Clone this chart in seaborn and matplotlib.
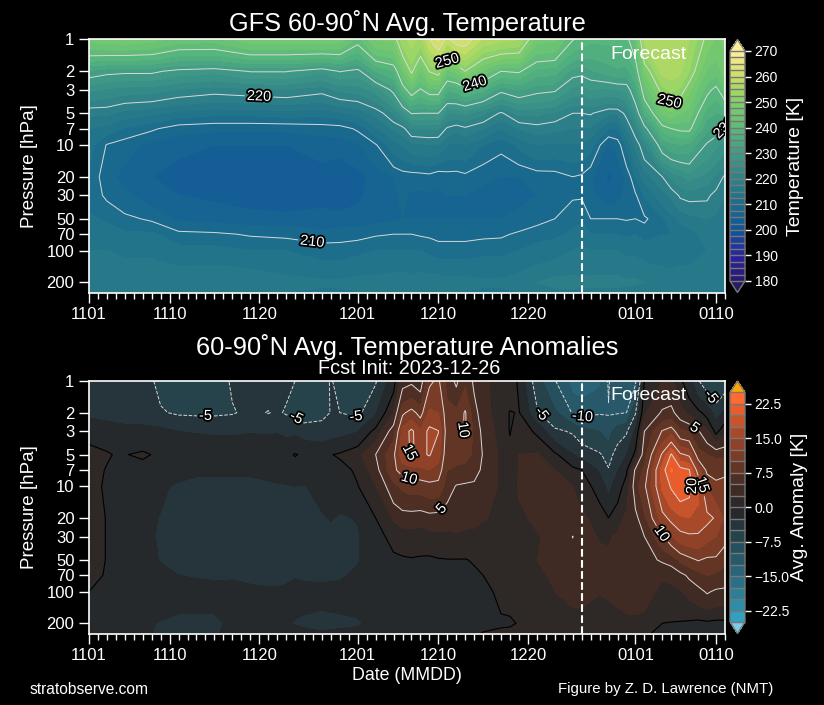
"""
GFS 60-90N polar cap temperature and anomalies (pressure vs date)
"""

import numpy as np
import matplotlib
matplotlib.use("Agg")
import matplotlib.pyplot as plt
import matplotlib.patheffects as pe
from matplotlib.colors import ListedColormap
from matplotlib.ticker import FixedLocator, FixedFormatter, NullLocator
import seaborn as sns

sns.set_theme(style="ticks", rc={
    "figure.facecolor": "black", "axes.facecolor": "black", "savefig.facecolor": "black",
    "text.color": "white", "axes.labelcolor": "white", "axes.edgecolor": "white",
    "xtick.color": "white", "ytick.color": "white",
})
plt.rcParams["font.family"] = ["Liberation Sans", "DejaVu Sans"]

# ============================================================
# Data
# ============================================================

pressure = [1, 2, 3, 5, 7, 10, 20, 30, 50, 70, 100, 200, 250]
tick_pressure = [1, 2, 3, 5, 7, 10, 20, 30, 50, 70, 100, 200]
tick_days = [0, 9, 19, 30, 39, 49, 61, 70]
tick_dates = ["1101", "1110", "1120", "1201", "1210", "1220", "0101", "0110"]
forecast_day = 55

temp_days = [0, 2, 4, 7, 10, 14, 18, 22, 26, 28, 30, 32, 34, 35, 36, 37, 38, 39, 40, 41,
             42, 44, 46, 48, 50, 52, 54, 55, 56, 58, 59, 60, 61, 62, 64, 65, 66, 67, 69, 70, 71]

# one row per day in temp_days, one column per pressure level
temp_values = [
    [246, 232, 225.5, 218, 215, 213.5, 212, 211.5, 213, 214, 215, 217, 216],
    [246.5, 231, 224.5, 218, 214, 209.8, 208.5, 209.5, 212, 214, 215, 217, 216],
    [246.7, 230.7, 223.8, 216.4, 212.2, 208.5, 206.5, 208, 210.7, 213, 214.5, 217, 216],
    [246, 230.7, 223.5, 215.6, 210.5, 206.5, 205, 206, 209.5, 213, 214.5, 217, 216],
    [243.7, 229, 222.2, 214, 208.5, 205.5, 204, 205, 207, 210.8, 213.5, 217, 216],
    [243.7, 228.3, 221.2, 213.2, 208, 205, 203.5, 204.5, 206.5, 210.5, 213.5, 217.5, 216],
    [246.5, 230.2, 221.9, 213.2, 208, 205, 203.2, 203.7, 206, 209.7, 212.5, 217.5, 216],
    [246.5, 230.2, 222.4, 213.8, 208, 205, 202.5, 203, 206, 209.3, 212.5, 216, 215],
    [247, 228, 221, 213.5, 208.5, 206, 203.8, 204.5, 205.5, 208.5, 211.5, 215.5, 214.5],
    [246.3, 230.2, 223, 214.5, 208.7, 206, 202.8, 203, 206, 208.7, 211.5, 215.5, 214.5],
    [241.5, 229, 223.5, 215.5, 210.5, 207, 204, 204.5, 206, 209, 212, 216, 215],
    [247.5, 235, 226, 218.2, 214.5, 209.7, 206, 206, 206.5, 209.7, 212.5, 216, 215],
    [248, 237.3, 231, 222.5, 217.9, 214, 207.5, 207, 207, 210, 212.5, 216.5, 215],
    [254, 244.5, 238, 226, 219, 215, 208.5, 208, 207.5, 210, 212.5, 216.5, 215],
    [256, 250.8, 242.5, 230.2, 222.5, 216.7, 208.5, 207, 207.5, 210, 212.5, 216, 215],
    [254, 245, 239.6, 230, 222.7, 217, 208.7, 207, 207.5, 209.7, 212.5, 216.5, 215],
    [260, 250.2, 242, 230, 222.7, 217.4, 209, 207, 207.5, 209.5, 212, 216.5, 215],
    [263, 251.8, 242, 230, 222.8, 217, 208, 207, 207.5, 209, 211.5, 216.5, 215],
    [259, 244, 235.5, 225, 219.5, 215, 208.7, 207.5, 207.5, 209, 211.5, 216, 215],
    [262, 245.8, 236, 224.8, 218.3, 214.4, 208.7, 207.5, 207.5, 209, 211.5, 216, 215],
    [262, 250, 238, 225.5, 219.4, 215, 209.2, 207.5, 207.5, 209, 211.5, 216, 215],
    [257, 244, 235.5, 223, 217.5, 212.5, 207.8, 207, 207.5, 209.3, 212, 215.5, 214.5],
    [256, 240, 231, 219.5, 215, 210.7, 207.5, 207, 207.5, 209.5, 212, 215.5, 214.5],
    [255, 240.5, 232.6, 223.3, 217.5, 213, 207.5, 207, 208, 210.5, 212.5, 216.5, 215],
    [246, 236.5, 231, 223.2, 218.7, 215, 208.4, 207.5, 209, 211.5, 213.5, 217.5, 216],
    [245.5, 236, 230.5, 221.9, 218.2, 214.5, 208.7, 208.4, 210, 212, 214, 218.5, 216.5],
    [240.2, 231.5, 226.5, 220, 217.4, 214.7, 210, 209.7, 211.5, 213, 215, 218.5, 217],
    [239, 231, 226.3, 220, 217.4, 214.8, 209.5, 209.7, 212, 214, 215.5, 218, 216.5],
    [238, 232, 227.3, 220.3, 217, 213.5, 207.8, 208, 210, 212.5, 215, 218.5, 216.5],
    [238, 233.8, 227, 218, 212.5, 207, 204.5, 205.8, 210, 212.5, 215, 218.5, 216.5],
    [238.5, 234.5, 227.5, 218, 212.5, 208.5, 205.5, 206.5, 210, 212.5, 215, 218.5, 216.5],
    [239, 234, 228, 221, 217.5, 213, 208, 208.3, 209.8, 212, 214.5, 218, 216],
    [243, 237.4, 233.2, 227, 222, 218, 212.4, 209.6, 210, 212.5, 214.5, 218, 216],
    [255.8, 247.5, 242.6, 235.4, 228.6, 222.4, 216, 212.8, 209.5, 211.5, 214, 217.5, 216],
    [257, 256, 251.5, 245, 238.5, 232.4, 220, 216.5, 212, 212.5, 213.5, 217, 215.5],
    [257, 256.5, 253, 247, 240, 234.2, 223, 218, 214, 212.5, 213.5, 216.5, 215],
    [257, 255.5, 252, 244.9, 240.7, 234.7, 224.5, 220.5, 215.5, 213.5, 214, 216.5, 215],
    [255, 252.5, 248, 244, 240.9, 234.3, 226, 221, 216.5, 214, 214, 216.5, 215],
    [249, 244.5, 241, 236, 233, 229.5, 224, 220.6, 217.5, 216, 215, 216.5, 215],
    [247, 243.5, 239, 235, 231.5, 228, 222, 219, 217, 216, 215, 216, 214.5],
    [248, 246, 243, 235.5, 229.5, 226, 219.5, 217.5, 216.5, 215.5, 215, 216, 214.5],
]

anom_days = [0, 2, 3, 4, 6, 8, 10, 12, 14, 16, 18, 20, 21, 22, 23, 24, 26, 27, 28, 30,
             32, 34, 35, 36, 37, 38, 39, 40, 41, 42, 43, 44, 46, 47, 48, 50, 52, 54, 55,
             57, 58, 59, 60, 61, 62, 64, 65, 66, 67, 68, 69, 70, 71]

# one row per day in anom_days, one column per pressure level
anom_values = [
    [-3.5, -3, -1, 1, 1.2, 1.2, 1, 1, 1, 0.7, 0, -1, -1],
    [-3.8, -3.2, -1.5, 0.3, -0.2, -0.5, -0.1, -0.1, -0.1, -0.2, -0.7, -1.5, -1],
    [-4, -3.3, -1.7, -0.2, -0.9, -1.2, -1, -1, -1, -1, -1.2, -1.8, -1.5],
    [-4, -3.5, -1.8, -0.1, -1, -1.3, -1.5, -1.5, -1.5, -1.3, -1.5, -2, -1.8],
    [-4.2, -3.6, -1.8, 0.4, -1, -1.5, -2, -2, -1.8, -1.5, -1.5, -2.2, -2.3],
    [-5.5, -4.8, -1.8, -0.5, -1.5, -2.2, -2.6, -2.7, -2.6, -2, -1.7, -2.6, -2.7],
    [-6, -5.3, -2.5, -1.3, -1.8, -2.8, -3.2, -3.2, -3, -2.5, -2, -2.8, -2.7],
    [-6.2, -5.4, -2.6, -1.4, -2.2, -3, -3.5, -3.5, -3.2, -2.6, -2, -2.8, -2.8],
    [-6.3, -5.4, -2.7, -1.4, -2.2, -3, -3.5, -3.5, -3.2, -2.7, -2, -2.8, -2.7],
    [-4.7, -5.2, -2.7, -1.4, -2.2, -3, -3.6, -3.7, -3.2, -2.6, -2.2, -2.2, -2],
    [-4, -4.4, -2.6, -1.3, -2.2, -3, -3.7, -3.8, -3.4, -2.8, -2.2, -2.2, -1.9],
    [-4, -5.1, -2.7, -1.2, -2, -2.8, -3.7, -3.8, -3.5, -2.9, -2.3, -2.3, -1.9],
    [-4.1, -4.7, -2.6, -1.2, -1.9, -2.7, -3.6, -3.7, -3.4, -2.9, -2.3, -2.2, -1.9],
    [-4.6, -5.2, -3, -0.8, -1.9, -2.6, -3.6, -3.7, -3.3, -2.8, -2.2, -2.4, -1.9],
    [-5, -5.5, -3, 0.2, -1.5, -2.5, -3.5, -3.6, -3.2, -2.6, -2, -2.6, -1.8],
    [-6.2, -6.5, -3.5, -0.5, -1.6, -2.6, -3.4, -3.6, -3.2, -2.7, -2.1, -2.7, -2.2],
    [-6.5, -5.8, -3.7, -0.8, -1.4, -1.9, -2.7, -3.1, -3, -2.7, -2.2, -2.8, -2.4],
    [-4.7, -4.9, -3.5, -0.1, -1.3, -1.9, -2.4, -3, -3, -2.7, -2.1, -2.8, -2.3],
    [-6.2, -5, -3.3, 0.3, -0.8, -1.8, -2.7, -3.2, -3.1, -2.7, -2, -2.8, -2.2],
    [-7.7, -5.6, -2.6, 1.8, 0.4, -0.1, -2.4, -2.7, -2.6, -2.2, -1.8, -2.7, -2],
    [-5.2, -2.8, 0.8, 5, 4, 2.5, 0, -0.9, -1.8, -1.6, -1.4, -2, -1.7],
    [-1, 2.5, 6.5, 9.5, 9.5, 6.8, 2.8, 0.8, -0.5, -1.2, -1.2, -1.9, -1.7],
    [4, 9.5, 13.5, 14.2, 11, 8, 3.7, 1.2, -0.3, -1, -1.2, -2, -1.6],
    [4.5, 11, 15.6, 15.2, 11.7, 8.5, 3.7, 1.5, -0.2, -1, -1.2, -1.8, -1.6],
    [3.5, 9, 13, 14.5, 12, 8.5, 3.5, 1.2, -0.3, -0.8, -1.2, -2, -1.5],
    [9.5, 13, 15.8, 15.2, 12.5, 9, 4, 1.5, -0.4, -1.1, -1.3, -2.2, -1.5],
    [10.5, 12.5, 15.1, 13.5, 11.5, 9, 3.8, 2, -0.2, -0.9, -1.2, -2.2, -1.3],
    [6.5, 8.5, 8.5, 8, 7.5, 6.5, 3, 2.2, -0.1, -0.8, -1.2, -2, -1.2],
    [4.5, 8, 9, 8.5, 7, 4.8, 3.5, 2.2, -0.1, -0.7, -1.2, -1.7, -1.1],
    [7, 10.3, 10.3, 8.5, 6.5, 4.6, 3.2, 2, -0.1, -0.6, -1.2, -1.5, -0.9],
    [4.5, 6, 7, 7, 6, 4.5, 3, 2, 0.2, -0.4, -1.2, -1.2, -0.5],
    [3, 3.5, 4.2, 4.8, 4.5, 3.7, 2.6, 1.8, 0.3, 0, -0.6, -1, 0.2],
    [1.5, 1.2, 1.5, 2, 2, 2.2, 2.2, 1.7, 1.2, 0.7, 0.5, -0.3, 0.4],
    [1.5, -0.15, -0.15, 0.8, 1.3, 2, 2, 1.5, 1, 0.8, 0.5, -0.2, 0.4],
    [-0.5, 0.15, 1.5, 2.5, 2.6, 2.6, 2.3, 2, 1.5, 1.2, 0.8, 0.1, 0.7],
    [-6.5, -4.5, -0.5, 2.8, 3.3, 3.2, 2.7, 2.4, 2.5, 1.9, 1, 0.5, 1],
    [-9.8, -7, -4.5, 0.5, 2.5, 3.3, 3, 2.8, 2.8, 3, 2.5, 1.3, 1.5],
    [-13.5, -10.2, -5.3, -2.4, 0.7, 2.5, 3.3, 5.05, 4, 3.7, 3, 1.8, 2],
    [-14, -10.8, -6.5, -3.4, 0, 1.5, 2.9, 3.5, 4, 4, 3, 1.8, 2],
    [-13, -10.2, -7.5, -4.7, -2.8, -1.3, 1.7, 2.3, 3.2, 3.3, 2.6, 1.2, 1.6],
    [-9.7, -10.2, -8.5, -6, -4.8, -3.2, 0, 2.2, 3, 3.3, 2.8, 1.3, 1.7],
    [-12.5, -10.2, -6.1, -3.9, -2.7, -1.2, 1.5, 2.9, 3.2, 3.5, 3, 1.8, 1.8],
    [-11, -10, -5.3, -2.6, -0.4, 1, 3, 3.7, 3.5, 3.5, 3.3, 2, 1.8],
    [-10.5, -5.2, -2, 0.7, 5.5, 6.5, 4.2, 3.5, 3.3, 3.5, 3.5, 2, 1],
    [0, 2, 5, 6.5, 8, 9.5, 7, 5, 4, 3.5, 3.6, 1.5, 0.3],
    [2.5, 5.4, 10.2, 15.5, 18.8, 18, 14, 9.5, 5.4, 2.8, 1.8, 0, -0.5],
    [3, 5.8, 11.5, 20.3, 22.8, 20.3, 15.8, 12, 6, 3.3, 1.7, -0.1, -0.8],
    [0.5, 3.5, 8, 15.5, 21, 22, 17, 14, 8, 4.2, 2.2, -0.2, -1],
    [-1.5, 1.8, 7.5, 14.5, 20.2, 21, 17.5, 14.5, 9.2, 5.5, 3.2, -0.4, -1.2],
    [-4.8, 0.7, 5.3, 8.5, 13.7, 18, 17, 14.5, 10.2, 6.5, 4.2, -0.7, -1.4],
    [-6.5, -1, 3, 7.5, 9.3, 12.4, 15.8, 13.3, 9.5, 7.5, 5.3, -0.5, -1.3],
    [-7.5, -3.5, -0.8, 7, 9, 10.7, 14.7, 12.5, 9.5, 7, 4.6, -0.7, -1.4],
    [-6.3, -2, 1.9, 7, 9.5, 10.8, 12, 10.9, 8.2, 6.4, 4.5, -0.7, -1.5],
]

temp_colors = ["#2a186c", "#2a23a0", "#10549a", "#1b6c8c", "#2e8189",
               "#419a85", "#5ab97a", "#82cf6a", "#c9de62", "#fdee99"]
# band colours bottom to top, one per 2.5 K
anom_colors = ["#34a0c0", "#2e8eaa", "#2c7f98", "#2a6f85", "#296478", "#27596a", "#26505e",
               "#26434c", "#25353b", "#25292b", "#2e2826", "#3f2b24", "#4f2f24", "#633525",
               "#7a3c26", "#8f4228", "#a84a2a", "#c9532b", "#e85d2b", "#ff6a30"]

temp_levels = np.arange(180, 270.1, 2.5)
anom_levels = np.arange(-25, 25.1, 2.5)

# ============================================================
# Helpers
# ============================================================


def draw_labels(ax, cs, spots, size=10.5):
    """Contour labels at given (day, pressure) spots, white with black edge"""
    texts = ax.clabel(cs, fmt="%d", fontsize=size, colors="white", manual=spots,
                      inline=True, inline_spacing=2)
    for txt in texts:
        txt.set_path_effects([pe.withStroke(linewidth=2.6, foreground="black")])
        txt.set_clip_on(True)
        txt.set_clip_box(ax.bbox)


def format_axis(ax):
    ax.set_yscale("log")
    ax.set_ylim(250, 1)
    ax.set_xlim(0, 71)
    ax.yaxis.set_major_locator(FixedLocator(tick_pressure))
    ax.yaxis.set_major_formatter(FixedFormatter([str(p) for p in tick_pressure]))
    ax.yaxis.set_minor_locator(NullLocator())
    ax.set_xticks(tick_days)
    ax.set_xticklabels(tick_dates)
    ax.set_xticks(np.arange(0, 72), minor=True)
    ax.tick_params(axis="both", which="major", length=7.5, width=1, labelsize=12, pad=3)
    ax.tick_params(axis="x", which="minor", length=4, width=1)
    ax.set_ylabel("Pressure [hPa]", fontsize=13.5, labelpad=6)
    for side in ax.spines.values():
        side.set_color("white")
        side.set_linewidth(1.2)
    ax.axvline(forecast_day, color="white", linestyle="--", linewidth=1.5)
    ax.text(62.5, 1.38, "Forecast", color="white", fontsize=14, ha="center", va="center")


def add_colorbar(fig, cf, box, ticks, fmt, label, labelpad):
    cax = fig.add_axes(box)
    cbar = fig.colorbar(cf, cax=cax, extend="both", drawedges=True, ticks=ticks)
    cbar.ax.set_yticklabels([fmt(t) for t in ticks])
    cbar.ax.yaxis.set_minor_locator(NullLocator())
    cbar.ax.tick_params(axis="y", which="major", length=4, width=1, labelsize=10, pad=3)
    cbar.outline.set_edgecolor("#777777")
    cbar.outline.set_linewidth(1)
    cbar.dividers.set_color("#777777")
    cbar.dividers.set_linewidth(1)
    cbar.set_label(label, fontsize=14, color="white", labelpad=labelpad)
    return cbar


# ============================================================
# Figure
# ============================================================

W, H = 824, 705
fig = plt.figure(figsize=(W / 100, H / 100), dpi=100)
ax_temp = fig.add_axes([89 / W, 1 - 292.5 / H, 636 / W, 253 / H])
ax_anom = fig.add_axes([89 / W, 1 - 633.5 / H, 636 / W, 252.5 / H])

# --- Temperature ---
temp_cmap = sns.blend_palette(temp_colors, as_cmap=True)
temp_cmap.set_under("#2a1a5e")
temp_cmap.set_over("#fdee99")
temp_grid = np.array(temp_values).T

cf_temp = ax_temp.contourf(temp_days, pressure, temp_grid, levels=temp_levels,
                           cmap=temp_cmap, extend="both", antialiased=False)
cs_temp = ax_temp.contour(temp_days, pressure, temp_grid, levels=[210, 220, 230, 240, 250, 260],
                          colors="#d8d8d8", linewidths=0.7)
format_axis(ax_temp)
draw_labels(ax_temp, cs_temp, [(19, 3.27), (25, 74.6), (40, 1.49), (43, 2.52), (65, 3.7), (70.9, 6.7)])
ax_temp.set_title("GFS 60-90˚N Avg. Temperature", fontsize=18.3, color="white", pad=6)

temp_ticks = list(range(180, 271, 10))
add_colorbar(fig, cf_temp, [730 / W, 1 - 292.5 / H, 15 / W, 253 / H], temp_ticks,
             lambda t: str(t), "Temperature [K]", 6)

# --- Anomalies ---
anom_cmap = ListedColormap(sns.color_palette(anom_colors))
anom_cmap.set_under("#7fc9e8")
anom_cmap.set_over("#ffa500")
anom_grid = np.array(anom_values).T

cf_anom = ax_anom.contourf(anom_days, pressure, anom_grid, levels=anom_levels,
                           cmap=anom_cmap, extend="both", antialiased=False)
ax_anom.contour(anom_days, pressure, anom_grid, levels=[0], colors="black", linewidths=0.8)
cs_neg = ax_anom.contour(anom_days, pressure, anom_grid, levels=[-15, -10, -5],
                         colors="#d8d8d8", linewidths=0.7, linestyles="--")
cs_pos = ax_anom.contour(anom_days, pressure, anom_grid, levels=[5, 10, 15, 20, 25],
                         colors="#d8d8d8", linewidths=0.7, linestyles="-")
format_axis(ax_anom)
draw_labels(ax_anom, cs_neg, [(13, 2.33), (23.3, 2.14), (29.8, 2.19), (51, 1.88), (55.1, 2.19), (69, 1.51)])
draw_labels(ax_anom, cs_pos, [(68, 2.49), (63.9, 28.4), (41.3, 2.9), (35.8, 4.78), (35.8, 8.2),
                              (38.8, 14.8), (68.3, 9.8), (67.7, 9.8)])
ax_anom.set_xlabel("Date (MMDD)", fontsize=12.8, labelpad=3)

anom_ticks = [-22.5, -15.0, -7.5, 0.0, 7.5, 15.0, 22.5]
add_colorbar(fig, cf_anom, [730 / W, 1 - 633.5 / H, 15 / W, 252.5 / H], anom_ticks,
             lambda t: f"{t:.1f}".replace("-", "\u2212"), "Avg. Anomaly [K]", 1)

fig.text(407 / W, 1 - 347 / H, "60-90˚N Avg. Temperature Anomalies", fontsize=18.3,
         ha="center", va="center", color="white")
fig.text(409 / W, 1 - 368 / H, "Fcst Init: 2023-12-26", fontsize=14.3,
         ha="center", va="center", color="white")
fig.text(30 / W, 1 - 689 / H, "stratobserve.com", fontsize=11.2, ha="left", va="center", color="white")
fig.text(773 / W, 1 - 689 / H, "Figure by Z. D. Lawrence (NMT)", fontsize=10.8,
         ha="right", va="center", color="white")

plt.savefig("out.png", dpi=100)
